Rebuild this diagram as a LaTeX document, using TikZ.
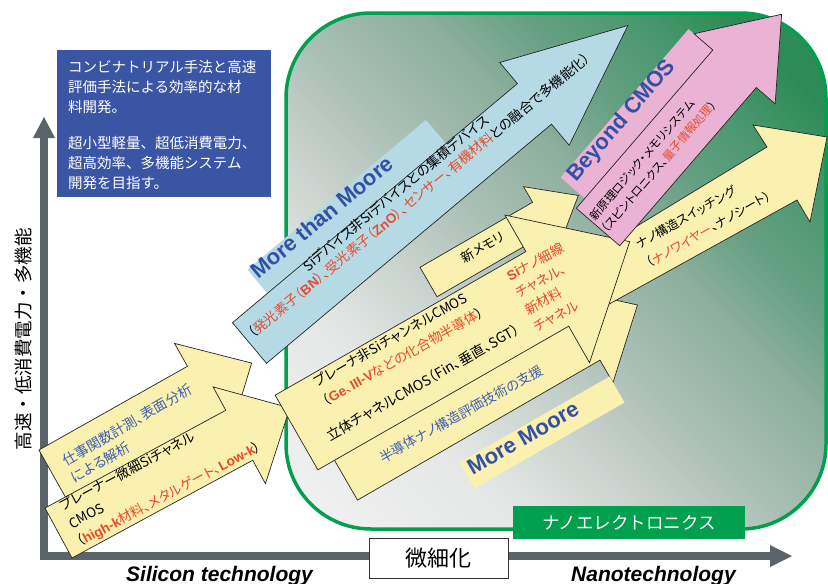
\documentclass[tikz,border=0pt]{standalone}
\usepackage{fontspec}
\setmainfont{Liberation Sans}
\newfontfamily\jp{Noto Sans CJK JP}
\newfontfamily\jpp{Noto Sans CJK JP}[RawFeature=+palt]
\definecolor{ylw}{HTML}{FAF0B0}
\definecolor{lblue}{HTML}{B5DAE5}
\definecolor{pnk}{HTML}{EBB3D3}
\definecolor{redt}{HTML}{E84A2C}
\definecolor{bluet}{HTML}{3F5FB0}
\definecolor{headb}{HTML}{3350A6}
\definecolor{boxb}{HTML}{3B55A5}
\definecolor{axisg}{HTML}{5B6468}
\definecolor{grn}{HTML}{00A04E}
\definecolor{sh0}{HTML}{F2F2F2}
\definecolor{sh1}{HTML}{E4E7E5}
\definecolor{sh2}{HTML}{C0CCC6}
\definecolor{sh3}{HTML}{A8BFB4}
\definecolor{sh4}{HTML}{8DAF9E}
\definecolor{sh5}{HTML}{66A082}
\definecolor{sh6}{HTML}{4B9870}
\definecolor{sh7}{HTML}{2D8C55}
\pgfdeclarehorizontalshading{nanoshade}{100bp}{color(0bp)=(sh0); color(14.6bp)=(sh0); color(31bp)=(sh1); color(43bp)=(sh2); color(49bp)=(sh3); color(58bp)=(sh4); color(65bp)=(sh5); color(72bp)=(sh6); color(79bp)=(sh7); color(100bp)=(sh7)}
\newcommand\bL[1]{{\rmfamily\bfseries #1}}
\newcommand\blockarrow[8]{%
  \begin{scope}[shift={(#2,#3)},rotate=#4]
    \filldraw[#1] (0,#6) -- ({#5-#8},#6) -- ({#5-#8},#7) -- (#5,0) -- ({#5-#8},-#7) -- ({#5-#8},-#6) -- (0,-#6) -- cycle;
  \end{scope}}
\newcommand\rband[8]{%
  \begin{scope}[shift={(#2,#3)},rotate=#4]
    \fill[#1] (#5,#7) rectangle (#6,#8);
  \end{scope}}
\begin{document}
\begin{tikzpicture}[x=1pt,y=-1pt,
  yarrow/.style={fill=ylw,draw=black!85,line width=0.7pt},
  barrow/.style={fill=lblue,draw=black!85,line width=0.7pt},
  parrow/.style={fill=pnk,draw=black!85,line width=0.7pt},
  lbl/.style={inner sep=0pt,outer sep=0pt,anchor=base west,font=\jpp\fontsize{13.5}{16}\selectfont},
  bxt/.style={inner sep=0pt,outer sep=0pt,anchor=base west,text=white,font=\jp\fontsize{14.5}{18}\selectfont},
  headlbl/.style={inner sep=0pt,text=headb,font=\rmfamily\bfseries\fontsize{22}{24}\selectfont},
  axlbl/.style={inner sep=0pt,anchor=base west,font=\rmfamily\bfseries\itshape\fontsize{21}{24}\selectfont}]
\useasboundingbox (0,0) rectangle (828,584);
\fill[white] (0,0) rectangle (828,584);
% nano region
\shadedraw[shading=nanoshade,shading angle=45,draw=grn,line width=3.5pt,rounded corners=85pt] (286,13) rectangle (826,529);
% axes
\fill[axisg] (40,558) rectangle (48,138);
\fill[axisg] (33,138) -- (55,138) -- (44,117) -- cycle;
\fill[axisg] (40,552) rectangle (770,560);
\fill[axisg] (770,545) -- (770,567) -- (792,556) -- cycle;
% blue box
\fill[boxb] (57,50) rectangle (271,197);
% silicon arrows
\blockarrow{yarrow}{53}{475}{29.4}{228}{28.7}{55}{57.5}
\blockarrow{yarrow}{58.5}{533}{28.4}{263}{28.4}{55}{57.5}
% More than Moore
\rband{lblue}{249.5}{343}{40}{45.6}{278.6}{-26.5}{-57.5}
\blockarrow{barrow}{249.5}{343}{40}{494}{26.5}{54}{122}
% More Moore group
\blockarrow{yarrow}{343}{475}{30}{340}{29}{55}{60}
\filldraw[yarrow] (577,262.5) -- (767,147) -- (753,125) -- (827,137) -- (810,222) -- (797,200) -- (603,307.5) -- cycle;
\blockarrow{yarrow}{428.5}{282}{30}{173}{17}{35}{43}
\blockarrow{yarrow}{296.5}{432.5}{29.8}{384}{43}{85}{95}
\rband{ylw}{542}{432.5}{29.8}{-86.5}{86.5}{-15}{15}
% Beyond CMOS
\rband{pnk}{598}{227}{49.2}{13}{209}{-28.7}{-60.7}
\blockarrow{parrow}{598}{227}{49.2}{281}{28.7}{53.6}{72}
% labels
\node[bxt] (bx1) at (68,72.5) {コンビナトリアル手法と高速};
\node[bxt] (bx2) at (68,92.5) {評価手法による効率的な材};
\node[bxt] (bx3) at (68,112.5) {料開発。};
\node[bxt] (bx4) at (68,148.5) {超小型軽量、超低消費電力、};
\node[bxt] (bx5) at (68,168.5) {超高効率、多機能システム};
\node[bxt] (bx6) at (68,188.5) {開発を目指す。};
\node[rotate=90,inner sep=0pt,font=\jp\fontsize{18.5}{20}\selectfont] (ylab) at (23,339) {高速・低消費電力・多機能};
\node[axlbl] (sil) at (126,581) {Silicon technology};
\node[axlbl] (nan) at (571,581) {Nanotechnology};
\node[draw=black!80,fill=white,line width=0.8pt,minimum width=139pt,minimum height=40pt,inner sep=0pt,font=\jp\fontsize{22}{24}\selectfont] (scal) at (438.5,558) {微細化};
\node[fill=grn,text=white,minimum width=232pt,minimum height=33pt,inner sep=0pt,font=\jp\fontsize{17.5}{20}\selectfont] (nanoel) at (629,522.5) {ナノエレクトロニクス};
% A text
\node[lbl,text=bluet,rotate=30,font=\jpp\fontsize{14}{16}\selectfont] (ta1) at (66,466) {仕事関数計測、表面分析};
\node[lbl,text=bluet,rotate=30,font=\jpp\fontsize{14}{16}\selectfont] (ta2) at (75,483) {による解析};
% B text
\node[lbl,rotate=28] (tb1) at (63,511) {プレーナー微細Siチャネル};
\node[lbl,rotate=28] (tb2) at (72,529) {CMOS};
\node[lbl,rotate=28] (tb3) at (80,547) {（\textcolor{redt}{\bL{high-k}材料、メタルゲート、\bL{Low-k}}）};
% C text
\node[lbl,rotate=29.5] (tc1) at (317,387) {プレーナ非SiチャンネルCMOS};
\node[lbl,rotate=29.5] (tc2) at (326,406) {（\textcolor{redt}{\bL{Ge}、\bL{III-V}などの化合物半導体}）};
\node[lbl,rotate=29.5,font=\jpp\fontsize{14}{16}\selectfont] (tc3) at (330,441) {立体チャネルCMOS（Fin、垂直、SGT）};
\node[lbl,rotate=28,text=redt] (tr1) at (510,281) {\bL{Si}ナノ細線};
\node[lbl,rotate=28,text=redt] (tr2) at (519,298) {チャネル、};
\node[lbl,rotate=28,text=redt] (tr3) at (528,315) {新材料};
\node[lbl,rotate=28,text=redt] (tr4) at (537,332) {チャネル};
\node[lbl,rotate=29,text=bluet] (te1) at (383,463) {半導体ナノ構造評価技術の支援};
\node[lbl,rotate=30,anchor=center,font=\jpp\fontsize{13}{16}\selectfont] (tm) at (483,247) {新メモリ};
\node[headlbl,rotate=29.8] (mm) at (523,438) {More Moore};
% H text
\node[lbl,rotate=29.5,font=\jpp\fontsize{12.5}{15}\selectfont] (th1) at (640,249) {ナノ構造スイッチング};
\node[lbl,rotate=29.5,font=\jpp\fontsize{12.5}{15}\selectfont] (th2) at (650,268) {（\textcolor{redt}{ナノワイヤー}、ナノシート）};
% blue arrow text
\node[headlbl,rotate=39.5] (mtm) at (322,217) {More than Moore};
\node[lbl,rotate=39.5] (tbl1) at (308,272) {Siデバイス非Siデバイスとの集積デバイス};
\node[lbl,rotate=39.5] (tbl2) at (253,339) {（\textcolor{redt}{発光素子（\bL{BN}）、受光素子（\bL{ZnO}）、センサー、有機材料}との融合で多機能化）};
% pink text
\node[headlbl,rotate=49.2] (bc) at (622,121) {Beyond CMOS};
\node[lbl,rotate=49.2,font=\jpp\fontsize{11.5}{14}\selectfont] (tp1) at (595,221) {新原理ロジック・メモリシステム};
\node[lbl,rotate=49.2,font=\jpp\fontsize{11.5}{14}\selectfont] (tp2) at (607,233) {（スピントロニクス、\textcolor{redt}{量子情報処理}）};
\end{tikzpicture}
\end{document}
